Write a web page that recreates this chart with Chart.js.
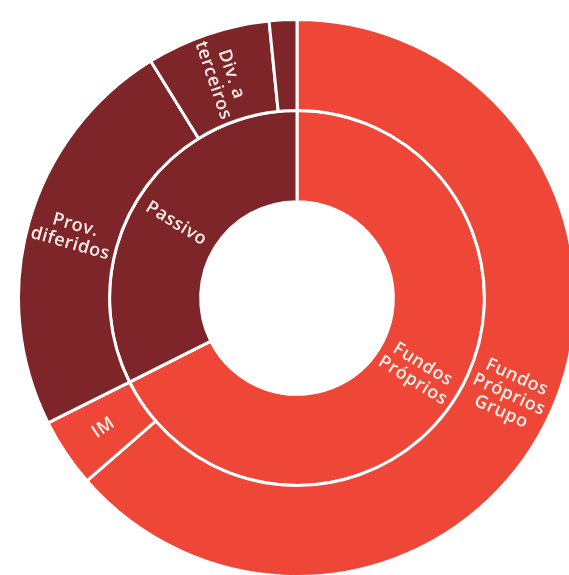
<!DOCTYPE html>
<html>
<head>
<meta charset="utf-8">
<script src="https://cdn.jsdelivr.net/npm/chart.js@4/dist/chart.umd.min.js"></script>
<style>
  html, body { margin: 0; padding: 0; background: #ffffff; overflow: hidden; width: 569px; height: 575px; }
  #wrap { position: absolute; left: 17px; top: 18px; width: 560px; height: 560px; }
</style>
</head>
<body>
<div id="wrap"><canvas id="c"></canvas></div>
<script>
// Balance-sheet structure (% of total)
const outerLabels = [["Fundos", "Próprios", "Grupo"], ["IM"], ["Prov.", "diferidos"], ["Div. a", "terceiros"], [""]];
const outerValues = [63.6, 4.0, 23.6, 7.2, 1.6];
const innerLabels = [["Fundos", "Próprios"], ["Passivo"]];
const innerValues = [67.6, 32.4];

const RED = "#ef4737";
const MAROON = "#7e252a";
const outerColors = [RED, RED, MAROON, MAROON, MAROON];
const innerColors = [RED, MAROON];

// Draws each segment's name along the radius at the middle of its arc
const radialLabels = {
  id: "radialLabels",
  afterDatasetsDraw(chart) {
    const ctx = chart.ctx;
    chart.data.datasets.forEach((ds, di) => {
      const meta = chart.getDatasetMeta(di);
      meta.data.forEach((arc, i) => {
        const lines = ds.names[i];
        if (!lines || !lines[0]) return;
        const p = arc.getProps(["x", "y", "startAngle", "endAngle", "innerRadius", "outerRadius"], true);
        const a = (p.startAngle + p.endAngle) / 2;
        const r = (p.innerRadius + p.outerRadius) / 2;
        const x = p.x + Math.cos(a) * r;
        const y = p.y + Math.sin(a) * r;
        const rot = Math.cos(a) >= 0 ? a : a + Math.PI;
        ctx.save();
        ctx.translate(x, y);
        ctx.rotate(rot);
        ctx.fillStyle = "#fbeee8";
        ctx.font = '600 18px "Open Sans", sans-serif';
        ctx.letterSpacing = "0.5px";
        ctx.textAlign = "center";
        ctx.textBaseline = "middle";
        const lh = 19;
        const y0 = -(lines.length - 1) * lh / 2;
        lines.forEach((t, k) => ctx.fillText(t, 0, y0 + k * lh));
        ctx.restore();
      });
    });
  }
};

new Chart(document.getElementById("c"), {
  type: "doughnut",
  data: {
    datasets: [
      { data: outerValues, names: outerLabels, backgroundColor: outerColors, borderColor: "#ffffff", borderWidth: 3, weight: 1 },
      { data: innerValues, names: innerLabels, backgroundColor: innerColors, borderColor: "#ffffff", borderWidth: 3, weight: 1 }
    ]
  },
  options: {
    responsive: true,
    maintainAspectRatio: false,
    animation: false,
    cutout: "34.6%",
    layout: { padding: 0 },
    plugins: { legend: { display: false }, tooltip: { enabled: false }, title: { display: false } }
  },
  plugins: [radialLabels]
});
</script>
</body>
</html>
